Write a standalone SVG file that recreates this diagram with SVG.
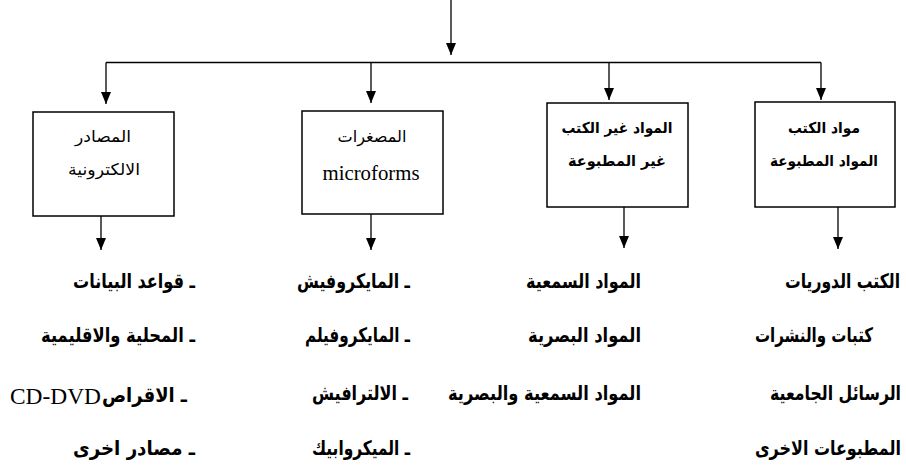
<svg xmlns="http://www.w3.org/2000/svg" width="906" height="466" viewBox="0 0 906 466">
<style>
.box{fill:#fff;stroke:#000;stroke-width:1.5}
.ln{fill:none;stroke:#000;stroke-width:1.3}
.bt{font-family:"DejaVu Sans",sans-serif;font-size:16px;fill:#000;text-anchor:middle}
.bb{font-family:"DejaVu Sans",sans-serif;font-size:15px;font-weight:bold;fill:#000;text-anchor:middle}
.en{font-family:"Liberation Serif",serif;font-size:21px;fill:#000;text-anchor:middle}
.it{font-family:"DejaVu Sans",sans-serif;font-size:20px;font-weight:bold;fill:#000;text-anchor:start}
.cd{font-family:"Liberation Serif",serif;font-size:24px;fill:#000}
</style>
<defs>
<marker id="ah" viewBox="0 0 12 10" refX="12" refY="5" markerWidth="12" markerHeight="10" markerUnits="userSpaceOnUse" orient="auto">
<path d="M0,0 L12,5 L0,10 Z" fill="#000"/>
</marker>
</defs>
<g id="connectors">
<line class="ln" x1="451" y1="0" x2="451" y2="55" marker-end="url(#ah)"/>
<line class="ln" x1="106" y1="62.5" x2="821" y2="62.5"/>
<line class="ln" x1="106" y1="62.5" x2="106" y2="104" marker-end="url(#ah)"/>
<line class="ln" x1="371" y1="62.5" x2="371" y2="103" marker-end="url(#ah)"/>
<line class="ln" x1="609" y1="62.5" x2="609" y2="100" marker-end="url(#ah)"/>
<line class="ln" x1="821" y1="62.5" x2="821" y2="100" marker-end="url(#ah)"/>
<line class="ln" x1="101" y1="216" x2="101" y2="250" marker-end="url(#ah)"/>
<line class="ln" x1="371" y1="214" x2="371" y2="250" marker-end="url(#ah)"/>
<line class="ln" x1="624" y1="207" x2="624" y2="248" marker-end="url(#ah)"/>
<line class="ln" x1="838" y1="207" x2="838" y2="249" marker-end="url(#ah)"/>
</g>
<g id="electronic">
<rect class="box" x="33" y="112" width="141" height="104"/>
<text class="bt" x="103" y="142" textLength="56" lengthAdjust="spacingAndGlyphs">المصادر</text>
<text class="bt" x="104" y="175" textLength="72" lengthAdjust="spacingAndGlyphs">الالكترونية</text>
</g>
<g id="microforms">
<rect class="box" x="302" y="111" width="141" height="103"/>
<text class="bt" x="372" y="142" textLength="69" lengthAdjust="spacingAndGlyphs">المصغرات</text>
<text class="en" x="371" y="180" textLength="97" lengthAdjust="spacingAndGlyphs">microforms</text>
</g>
<g id="nonbook">
<rect class="box" x="547" y="103" width="141" height="104"/>
<text class="bb" x="617" y="133" textLength="111" lengthAdjust="spacingAndGlyphs">المواد غير الكتب</text>
<text class="bb" x="617" y="166" textLength="98" lengthAdjust="spacingAndGlyphs">غير المطبوعة</text>
</g>
<g id="book">
<rect class="box" x="755" y="102" width="140" height="105"/>
<text class="bb" x="824" y="133" textLength="72" lengthAdjust="spacingAndGlyphs">مواد الكتب</text>
<text class="bb" x="824" y="166" textLength="108" lengthAdjust="spacingAndGlyphs">المواد المطبوعة</text>
</g>
<g id="list-electronic">
<text class="it" x="73" y="288" textLength="122" lengthAdjust="spacingAndGlyphs">ـ قواعد البيانات</text>
<text class="it" x="41" y="342" textLength="154" lengthAdjust="spacingAndGlyphs">ـ المحلية والاقليمية</text>
<text class="it" x="102" y="402" textLength="85" lengthAdjust="spacingAndGlyphs">ـ الاقراص</text>
<text class="cd" x="10" y="404" textLength="91" lengthAdjust="spacingAndGlyphs">CD-DVD</text>
<text class="it" x="73" y="455" textLength="122" lengthAdjust="spacingAndGlyphs">ـ مصادر اخرى</text>
</g>
<g id="list-microforms">
<text class="it" x="297" y="288" textLength="113" lengthAdjust="spacingAndGlyphs">ـ المايكروفيش</text>
<text class="it" x="305" y="342" textLength="105" lengthAdjust="spacingAndGlyphs">ـ المايكروفيلم</text>
<text class="it" x="312" y="400" textLength="96" lengthAdjust="spacingAndGlyphs">ـ  الالترافيش</text>
<text class="it" x="312" y="455" textLength="98" lengthAdjust="spacingAndGlyphs">ـ الميكروابيك</text>
</g>
<g id="list-nonbook">
<text class="it" x="526" y="288" textLength="115" lengthAdjust="spacingAndGlyphs">المواد السمعية</text>
<text class="it" x="528" y="342" textLength="113" lengthAdjust="spacingAndGlyphs">المواد البصرية</text>
<text class="it" x="448" y="400" textLength="193" lengthAdjust="spacingAndGlyphs">المواد السمعية والبصرية</text>
</g>
<g id="list-book">
<text class="it" transform="translate(785,288) scale(0.8,1)" x="0" y="0" textLength="143.75" lengthAdjust="spacingAndGlyphs">الكتب الدوريات</text>
<text class="it" transform="translate(755,342) scale(0.8,1)" x="0" y="0" textLength="147.5" lengthAdjust="spacingAndGlyphs">كتبات والنشرات</text>
<text class="it" transform="translate(770,400) scale(0.8,1)" x="0" y="0" textLength="163.75" lengthAdjust="spacingAndGlyphs">الرسائل الجامعية</text>
<text class="it" transform="translate(755,455) scale(0.8,1)" x="0" y="0" textLength="182.5" lengthAdjust="spacingAndGlyphs">المطبوعات الاخرى</text>
</g>
</svg>
